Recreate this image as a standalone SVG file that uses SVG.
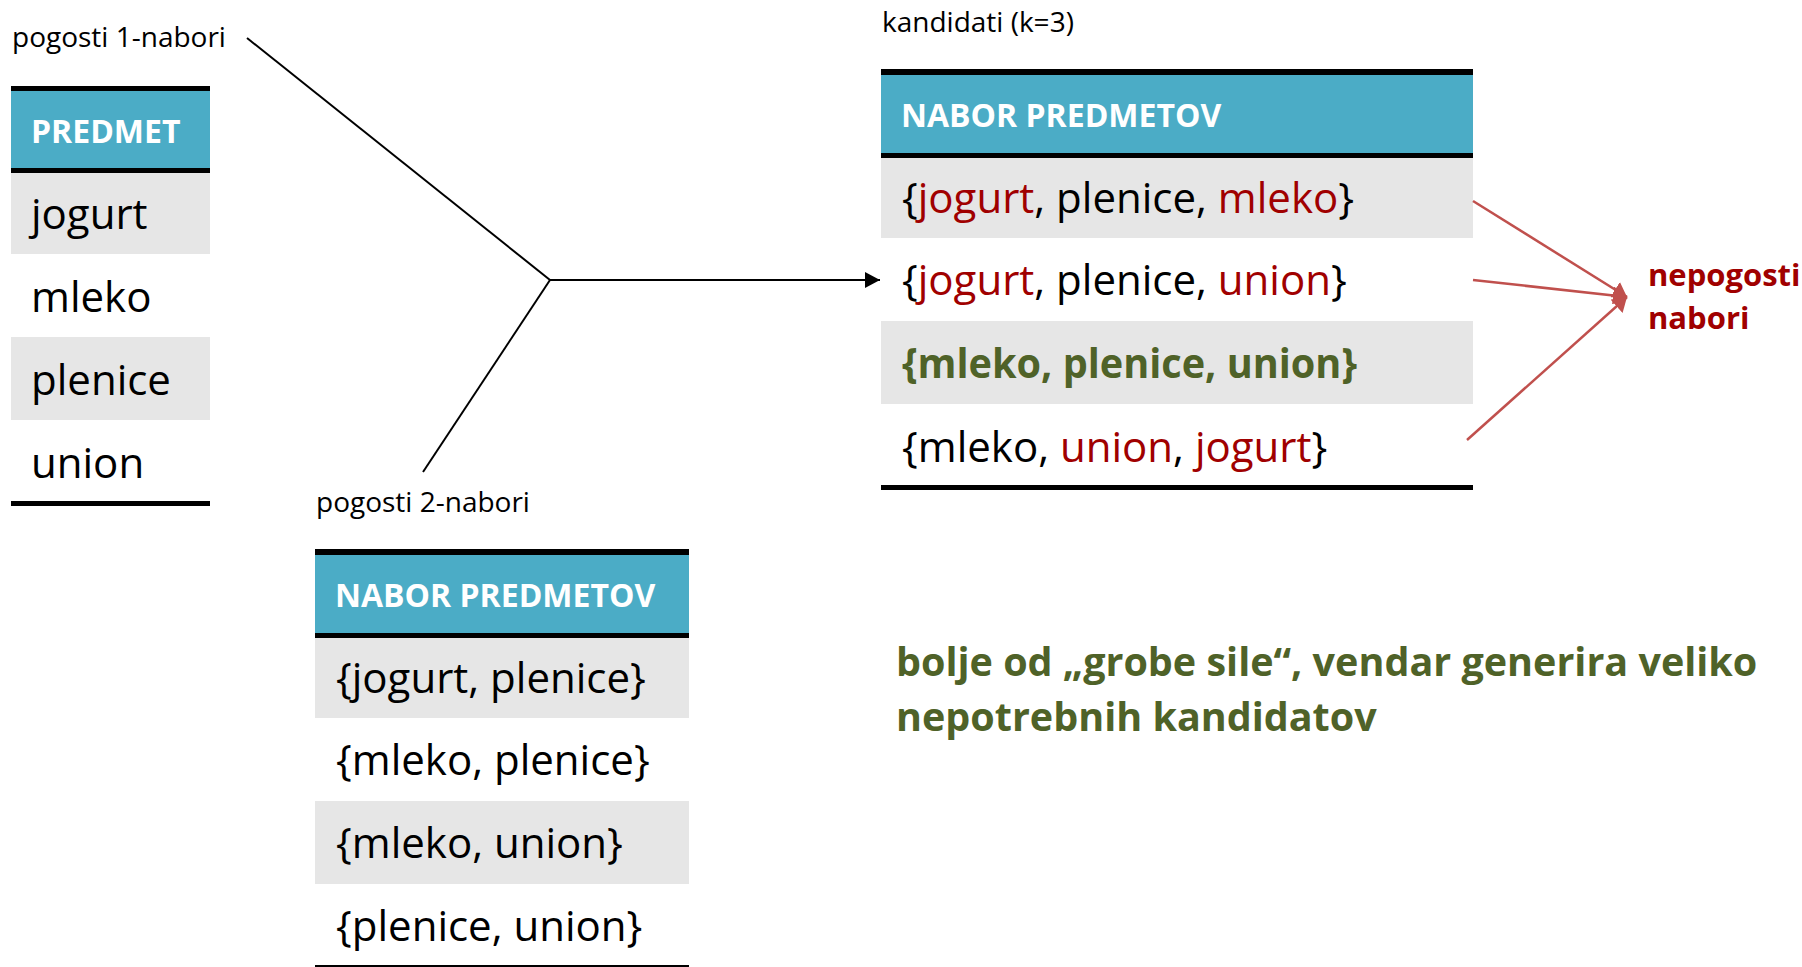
<svg xmlns="http://www.w3.org/2000/svg" width="1802" height="967" viewBox="0 0 1802 967">
<defs>
<style>
text{font-family:"Open Sans","Noto Sans",sans-serif;}
.lbl{font-size:28px;fill:#000;}
.hdr{font-size:32px;font-weight:bold;fill:#fff;}
.row{font-size:42px;fill:#000;}
.r{fill:#a00000;}
.g{fill:#4f6228;font-weight:bold;}
.blue{fill:#4bacc6;}
.gray{fill:#e6e6e6;}
.bar{fill:#000;}
.note{font-size:39.5px;font-weight:bold;fill:#4f6228;}
.neg{font-size:31px;font-weight:bold;fill:#a00000;}
.cb{stroke:#000;stroke-width:2;fill:none;}
.cr{stroke:#c0504d;stroke-width:2.5;fill:none;}
</style>
<marker id="ab" markerUnits="userSpaceOnUse" markerWidth="16" markerHeight="16" refX="15" refY="8" orient="auto">
<path d="M0,0 L15,8 L0,16 z" fill="#000"/>
</marker>
<marker id="ar" markerUnits="userSpaceOnUse" markerWidth="16" markerHeight="18" refX="14" refY="9" orient="auto">
<path d="M0,0 L14,9 L0,18 z" fill="#c0504d"/>
</marker>
</defs>
<rect width="1802" height="967" fill="#fff"/>

<g id="table-pogosti-1">
<text class="lbl" x="12" y="47">pogosti 1-nabori</text>
<rect class="bar" x="11" y="86" width="199" height="5"/>
<rect class="blue" x="11" y="91" width="199" height="77"/>
<rect class="bar" x="11" y="168" width="199" height="5"/>
<rect class="gray" x="11" y="173" width="199" height="81"/>
<rect class="gray" x="11" y="337" width="199" height="83"/>
<rect class="bar" x="11" y="501" width="199" height="5"/>
<text class="hdr" x="31" y="143">PREDMET</text>
<text class="row" x="31" y="229">jogurt</text>
<text class="row" x="31" y="312">mleko</text>
<text class="row" x="31" y="395">plenice</text>
<text class="row" x="31" y="478">union</text>
</g>

<g id="table-pogosti-2">
<text class="lbl" x="316" y="512">pogosti 2-nabori</text>
<rect class="bar" x="315" y="549" width="374" height="6"/>
<rect class="blue" x="315" y="555" width="374" height="78"/>
<rect class="bar" x="315" y="633" width="374" height="5"/>
<rect class="gray" x="315" y="638" width="374" height="80"/>
<rect class="gray" x="315" y="801" width="374" height="83"/>
<rect class="bar" x="315" y="965" width="374" height="3"/>
<text class="hdr" x="335" y="607">NABOR PREDMETOV</text>
<text class="row" x="336" y="693">{jogurt, plenice}</text>
<text class="row" x="336" y="775">{mleko, plenice}</text>
<text class="row" x="336" y="858">{mleko, union}</text>
<text class="row" x="336" y="941">{plenice, union}</text>
</g>

<g id="table-kandidati">
<text class="lbl" x="882" y="32">kandidati (k=3)</text>
<rect class="bar" x="881" y="69" width="592" height="6"/>
<rect class="blue" x="881" y="75" width="592" height="78"/>
<rect class="bar" x="881" y="153" width="592" height="5"/>
<rect class="gray" x="881" y="158" width="592" height="80"/>
<rect class="gray" x="881" y="321" width="592" height="83"/>
<rect class="bar" x="881" y="485" width="592" height="5"/>
<text class="hdr" x="901" y="127">NABOR PREDMETOV</text>
<text class="row" x="902" y="213">{<tspan class="r">jogurt</tspan>, plenice, <tspan class="r">mleko</tspan>}</text>
<text class="row" x="902" y="295">{<tspan class="r">jogurt</tspan>, plenice, <tspan class="r">union</tspan>}</text>
<text class="row g" x="902" y="378" textLength="455" lengthAdjust="spacingAndGlyphs">{mleko, plenice, union}</text>
<text class="row" x="902" y="462">{mleko, <tspan class="r">union</tspan>, <tspan class="r">jogurt</tspan>}</text>
</g>

<g id="label-nepogosti">
<text class="neg" x="1648" y="286">nepogosti</text>
<text class="neg" x="1648" y="329">nabori</text>
</g>

<g id="note">
<text class="note" x="896" y="676">bolje od „grobe sile“, vendar generira veliko</text>
<text class="note" x="896" y="731">nepotrebnih kandidatov</text>
</g>

<g id="connectors">
<line class="cb" x1="247" y1="38" x2="550" y2="280"/>
<line class="cb" x1="423" y1="472" x2="550" y2="280"/>
<line class="cb" x1="550" y1="280" x2="880" y2="280" marker-end="url(#ab)"/>
<line class="cr" x1="1473" y1="201" x2="1627" y2="297" marker-end="url(#ar)"/>
<line class="cr" x1="1473" y1="280" x2="1627" y2="297" marker-end="url(#ar)"/>
<line class="cr" x1="1467" y1="440" x2="1627" y2="297" marker-end="url(#ar)"/>
</g>
</svg>
